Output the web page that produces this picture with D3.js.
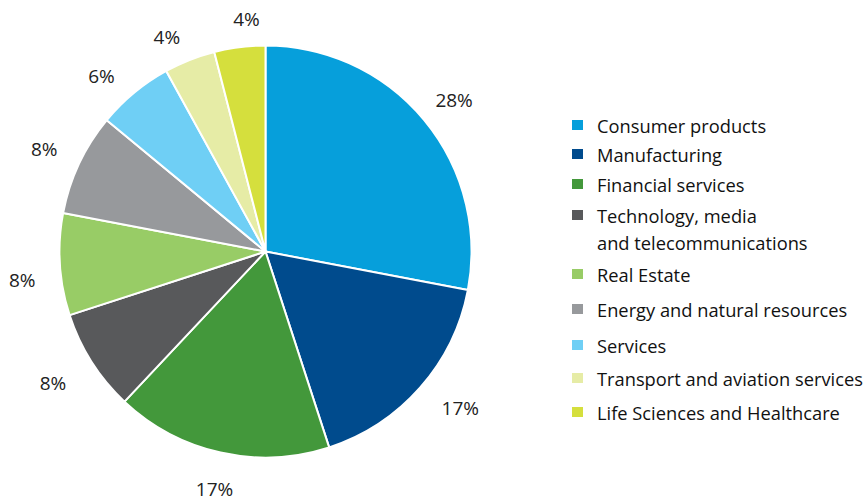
<!DOCTYPE html>
<html>
<head>
<meta charset="utf-8">
<script src="https://cdn.jsdelivr.net/npm/d3@7"></script>
<style>
  html, body { margin: 0; padding: 0; background: #fff; }
  svg { display: block; font-family: "Open Sans", "Noto Sans", sans-serif; }
</style>
</head>
<body>
<svg id="chart" width="867" height="501"></svg>
<script>
// Sector shares (percent)
const categories = [
  "Consumer products",
  "Manufacturing",
  "Financial services",
  "Technology, media\nand telecommunications",
  "Real Estate",
  "Energy and natural resources",
  "Services",
  "Transport and aviation services",
  "Life Sciences and Healthcare"
];
const values = [28, 17, 17, 8, 8, 8, 6, 4, 4];
const colors = [
  "#069fdb", "#004b8d", "#43983b", "#58595b", "#98cc66",
  "#97999c", "#6fcff5", "#e6eca6", "#d5df3d"
];

// Layout: legend row centres (y), percentage label distance from the centre
// and a small angular nudge (degrees) away from each slice's mid-angle
const legendRows = [125, 154, 184, 215, 274, 309, 345, 378, 412];
const labelRadius = [242, 250, 243, 250, 245, 244, 240, 236, 233];
const labelNudge = [0.8, -2.6, -0.5, 0.6, -3.1, -0.3, -3.5, -3.1, 2.5];

const svg = d3.select("#chart");
const cx = 265.5, cy = 251.5, r = 206;

const pie = d3.pie().value(d => d).sort(null);
const arcs = pie(values);
const arc = d3.arc().innerRadius(0).outerRadius(r);

const g = svg.append("g").attr("transform", `translate(${cx},${cy})`);

g.selectAll("path.slice")
  .data(arcs)
  .join("path")
  .attr("class", "slice")
  .attr("d", arc)
  .attr("fill", (d, i) => colors[i])
  .attr("stroke", "#fff")
  .attr("stroke-width", 2)
  .attr("stroke-linejoin", "round");

g.selectAll("text.pct")
  .data(arcs)
  .join("text")
  .attr("class", "pct")
  .attr("transform", (d, i) => {
    const a = (d.startAngle + d.endAngle) / 2 + labelNudge[i] * Math.PI / 180;
    const lr = labelRadius[i];
    return `translate(${lr * Math.sin(a)},${-lr * Math.cos(a)})`;
  })
  .attr("text-anchor", "middle")
  .attr("dominant-baseline", "central")
  .attr("font-size", 19)
  .attr("fill", "#222")
  .text(d => d.value + "%");

// Legend
const legend = svg.append("g");
categories.forEach((name, i) => {
  const y = legendRows[i];
  legend.append("rect")
    .attr("x", 572).attr("y", y - 5)
    .attr("width", 11).attr("height", 10)
    .attr("fill", colors[i]);
  const lines = name.split("\n");
  lines.forEach((line, j) => {
    legend.append("text")
      .attr("x", 597).attr("y", y + j * 27)
      .attr("dominant-baseline", "central")
      .attr("font-size", 18.3)
      .attr("fill", "#111")
      .text(line);
  });
});
</script>
</body>
</html>
